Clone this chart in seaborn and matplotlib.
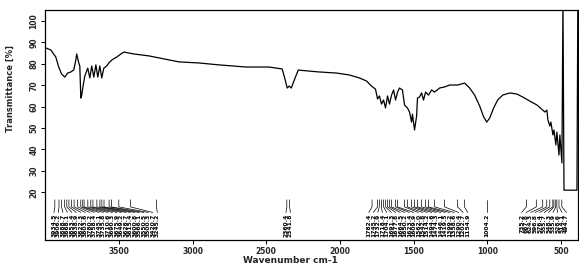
#!/usr/bin/env python3

"""FTIR transmittance spectrum with peak picking labels."""

import matplotlib

matplotlib.use("Agg")
import matplotlib.pyplot as plt
import pandas as pd
import seaborn as sns

# spectrum: wavenumber [cm-1] and transmittance [%]
wavenumber = [
    3996, 3962, 3928, 3908, 3888, 3867, 3847, 3826, 3806, 3792, 3786, 3772,
    3765, 3758, 3752, 3745, 3731, 3711, 3697, 3684, 3670, 3656, 3643, 3629,
    3616, 3602, 3582, 3568, 3548, 3514, 3486, 3466, 3398, 3296, 3194, 3092,
    2956, 2820, 2636, 2480, 2392, 2371, 2358, 2344, 2330, 2310, 2283, 2208,
    2140, 2024, 1936, 1868, 1820, 1786, 1759, 1745, 1732, 1718, 1704, 1691,
    1677, 1664, 1650, 1636, 1623, 1609, 1596, 1576, 1562, 1542, 1528, 1514,
    1508, 1494, 1480, 1474, 1460, 1446, 1433, 1419, 1399, 1378, 1358, 1324,
    1290, 1256, 1202, 1154, 1120, 1086, 1052, 1025, 1004, 984, 957, 930,
    896, 848, 800, 760, 712, 664, 624, 610, 596, 589, 576, 569, 555, 548,
    535, 528, 514, 508, 494, 487, 480, 392, 386,
]
transmittance = [
    87.4, 86.5, 83.2, 78.5, 75.2, 73.8, 75.7, 76.2, 77.1, 81.8, 84.6, 80.4,
    79.0, 64.0, 65.4, 68.7, 74.3, 78.0, 73.4, 79.0, 73.8, 79.5, 73.8, 79.0,
    73.4, 78.0, 79.0, 80.4, 81.8, 83.2, 84.6, 85.5, 84.6, 83.7, 82.3, 80.9,
    80.4, 79.5, 78.5, 78.5, 77.6, 72.4, 68.7, 69.6, 68.7, 72.4, 77.1, 76.6,
    76.2, 75.7, 74.8, 73.4, 72.0, 69.6, 68.2, 63.6, 65.0, 61.2, 63.1, 59.4,
    65.0, 61.2, 65.4, 67.8, 63.1, 66.8, 68.7, 67.8, 60.8, 59.4, 57.5, 52.8,
    56.5, 49.1, 55.6, 64.0, 64.5, 66.4, 63.1, 66.8, 65.4, 67.8, 66.8, 68.7,
    69.2, 70.1, 70.1, 71.0, 68.7, 65.4, 60.3, 55.2, 52.8, 54.7, 59.4, 63.1,
    65.4, 66.4, 65.9, 64.5, 62.6, 60.8, 58.4, 57.5, 58.4, 53.8, 51.0, 52.8,
    46.8, 49.1, 42.1, 48.1, 37.4, 46.8, 33.7, 110.0, 21.0, 21.0, 110.0,
]

# picked peaks, one list per label group
peaks_oh = [
    3934.5, 3906.2, 3888.7, 3868.1, 3853.4, 3838.9, 3822.3, 3803.6,
    3780.2, 3758.4, 3745.1, 3735.8, 3710.6, 3690.3, 3675.9, 3649.2,
    3628.7, 3615.4, 3600.8, 3566.1, 3550.5, 3500.3, 3420.7, 3245.2,
]
peaks_co2 = [2360.4, 2341.8]
peaks_fingerprint = [
    1782.4, 1745.2, 1732.9, 1718.4, 1704.1, 1691.3, 1677.8, 1664.5,
    1650.2, 1623.4, 1609.9, 1562.0, 1542.8, 1514.2, 1494.6, 1474.3,
    1446.1, 1419.5, 1399.2, 1358.6, 1290.4, 1202.7, 1154.9,
]
peaks_1000 = [1004.2]
peaks_low = [
    735.2, 667.8, 624.3, 596.8, 576.4, 555.7, 548.3, 535.9, 528.6,
    514.1, 494.7,
]

x_ticks = [3500, 3000, 2500, 2000, 1500, 1000, 500]
y_ticks = [100, 90, 80, 70, 60, 50, 40, 30, 20]

sns.set_theme(style="ticks")
plt.rcParams["font.family"] = ["DejaVu Sans"]


def label_peaks(ax, peaks, spacing=30.5):
    """Draw peak markers with leader lines and vertical labels."""
    peaks = sorted(peaks, reverse=True)
    centre = (peaks[0] + peaks[-1]) / 2
    n = len(peaks)
    for i, p in enumerate(peaks):
        xl = centre - (i - (n - 1) / 2) * spacing
        ax.plot([p, p, xl], [16.5, 13.2, 10.6], color="black", lw=0.5)
        ax.text(
            xl, 10.0, f"{p:.1f}", rotation=90, ha="center", va="top",
            fontsize=4.3, fontweight="bold", color="black",
        )


def main():
    data = pd.DataFrame({"wavenumber": wavenumber, "transmittance": transmittance})

    fig = plt.figure(figsize=(5.79, 2.65), dpi=100)
    ax = fig.add_axes([0.078, 0.094, 0.920, 0.868])
    sns.lineplot(
        data=data, x="wavenumber", y="transmittance", ax=ax,
        color="black", lw=0.9, sort=False, estimator=None,
    )
    for group in (peaks_oh, peaks_co2, peaks_fingerprint, peaks_1000, peaks_low):
        label_peaks(ax, group)

    ax.set_xlim(4000, 386)
    ax.set_ylim(-2.3, 105.1)
    ax.set_xticks(x_ticks)
    ax.set_yticks(y_ticks)
    ax.set_xticklabels([str(t) for t in x_ticks], fontsize=5.5, fontweight="bold")
    ax.set_yticklabels(
        [str(t) for t in y_ticks], fontsize=5.5, fontweight="bold",
        rotation=90, va="center",
    )
    ax.tick_params(axis="both", length=3, width=0.7, pad=2, color="black")
    for spine in ax.spines.values():
        spine.set_color("black")
        spine.set_linewidth(0.9)

    ax.set_xlabel("Wavenumber cm-1", fontsize=6.5, fontweight="bold")
    ax.set_ylabel("Transmittance [%]", fontsize=6, fontweight="bold")
    ax.xaxis.set_label_coords(0.46, -0.07)
    ax.yaxis.set_label_coords(-0.056, 0.66)

    fig.savefig("out.png", dpi=100)
    plt.close(fig)


if __name__ == "__main__":
    main()
